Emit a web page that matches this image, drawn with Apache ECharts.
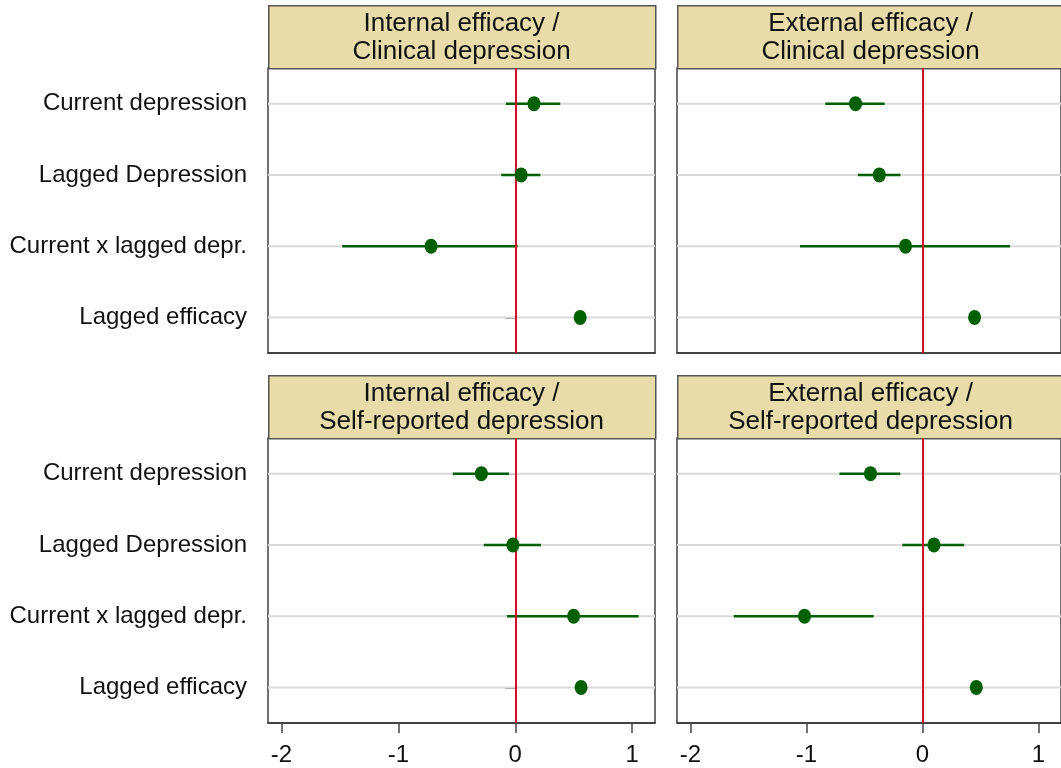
<!DOCTYPE html>
<html><head><meta charset="utf-8">
<script src="https://cdn.jsdelivr.net/npm/echarts@6/dist/echarts.min.js"></script>
<style>html,body{margin:0;padding:0;background:#fff}#c{width:1061px;height:768px}</style>
</head><body><div id="c"></div>
<script>
const categories = ['Current depression', 'Lagged Depression', 'Current x lagged depr.', 'Lagged efficacy'];
const panelTitles = [
  'Internal efficacy /\nClinical depression',
  'External efficacy /\nClinical depression',
  'Internal efficacy /\nSelf-reported depression',
  'External efficacy /\nSelf-reported depression'
];
const tickValues = [-2, -1, 0, 1];

// Panel 1: Internal efficacy / Clinical depression
const est1 = [0.16, 0.05, -0.72, 0.555];
const lo1  = [-0.08, -0.12, -1.48, 0.525];
const hi1  = [0.385, 0.215, 0.02, 0.585];
// Panel 2: External efficacy / Clinical depression
const est2 = [-0.576, -0.371, -0.145, 0.45];
const lo2  = [-0.837, -0.556, -1.055, 0.42];
const hi2  = [-0.325, -0.189, 0.756, 0.48];
// Panel 3: Internal efficacy / Self-reported depression
const est3 = [-0.29, -0.02, 0.499, 0.563];
const lo3  = [-0.535, -0.27, -0.07, 0.533];
const hi3  = [-0.054, 0.22, 1.055, 0.593];
// Panel 4: External efficacy / Self-reported depression
const est4 = [-0.447, 0.1, -1.016, 0.465];
const lo4  = [-0.715, -0.173, -1.626, 0.435];
const hi4  = [-0.19, 0.36, -0.42, 0.495];

const ests = [est1, est2, est3, est4];
const los = [lo1, lo2, lo3, lo4];
const his = [hi1, hi2, hi3, hi4];

const FONT = '"Liberation Sans", Arial, Helvetica, sans-serif';
const GREEN = '#006000';
const RED = '#d0102a';
const lefts = [268, 677, 268, 677];
const tops = [68, 68, 438, 438];
const W = 387, H = 285, HEAD = 63;

const grids = [], xAxes = [], yAxes = [], series = [], graphics = [];
for (let i = 0; i < 4; i++) {
  const isLeft = (i % 2 === 0);
  const isBottom = (i >= 2);
  grids.push({left: lefts[i], top: tops[i], width: W, height: H, show: true,
    borderColor: '#444', borderWidth: 1.5, backgroundColor: '#fff', containLabel: false});
  xAxes.push({type: 'value', gridIndex: i, min: -2.115, max: 1.195,
    axisLine: {show: true, onZero: false, lineStyle: {color: '#333', width: 1.5}},
    axisTick: {show: isBottom, length: 10, customValues: tickValues, lineStyle: {color: '#444', width: 1.5}},
    axisLabel: {show: isBottom, customValues: tickValues, fontSize: 24, fontFamily: FONT, color: '#111', margin: 20},
    splitLine: {show: false}});
  yAxes.push({type: 'category', gridIndex: i, data: categories, inverse: true,
    axisLine: {show: true, lineStyle: {color: '#333', width: 1.5}},
    axisTick: {show: isLeft, alignWithLabel: true, length: 10, lineStyle: {color: '#555', width: 1.5}},
    axisLabel: {show: isLeft, fontSize: 24, fontFamily: FONT, color: '#111', margin: 21},
    splitLine: {show: false}});
  const ciData = categories.map((c, k) => [c, los[i][k], his[i][k]]);
  series.push({
    type: 'custom', xAxisIndex: i, yAxisIndex: i, z: 2, silent: true,
    encode: {x: [1, 2], y: 0},
    data: ciData,
    renderItem: function (params, api) {
      const yi = api.value(0);
      const a = api.coord([api.value(1), yi]);
      const b = api.coord([api.value(2), yi]);
      const cs = params.coordSys;
      return {type: 'group', children: [
        {type: 'line', shape: {x1: cs.x, y1: a[1], x2: cs.x + cs.width, y2: a[1]},
          style: {stroke: '#dadada', lineWidth: 2}},
        {type: 'line', shape: {x1: a[0], y1: a[1], x2: b[0], y2: b[1]},
          style: {stroke: GREEN, lineWidth: 2.5}}
      ]};
    },
    markLine: {silent: true, symbol: 'none', label: {show: false},
      lineStyle: {color: RED, width: 2, type: 'solid'},
      data: [{xAxis: 0}]}
  });
  series.push({
    type: 'scatter', xAxisIndex: i, yAxisIndex: i, z: 5, silent: true,
    symbol: 'circle', symbolSize: [13, 15],
    itemStyle: {color: GREEN, opacity: 1},
    data: categories.map((c, k) => [ests[i][k], c])
  });
  graphics.push({type: 'rect', left: lefts[i], top: tops[i] - HEAD,
    shape: {width: W, height: HEAD},
    style: {fill: '#e8dcaa', stroke: '#555', lineWidth: 1.5}, z: 1});
  graphics.push({type: 'text', x: lefts[i] + W / 2, y: tops[i] - HEAD / 2 + 1,
    style: {text: panelTitles[i], fontSize: 26, fontFamily: FONT, fill: '#111',
      align: 'center', verticalAlign: 'middle', lineHeight: 28}, z: 2});
}

const chart = echarts.init(document.getElementById('c'));
chart.setOption({
  animation: false,
  backgroundColor: '#fff',
  grid: grids, xAxis: xAxes, yAxis: yAxes, series: series,
  graphic: {elements: graphics}
});
</script></body></html>
